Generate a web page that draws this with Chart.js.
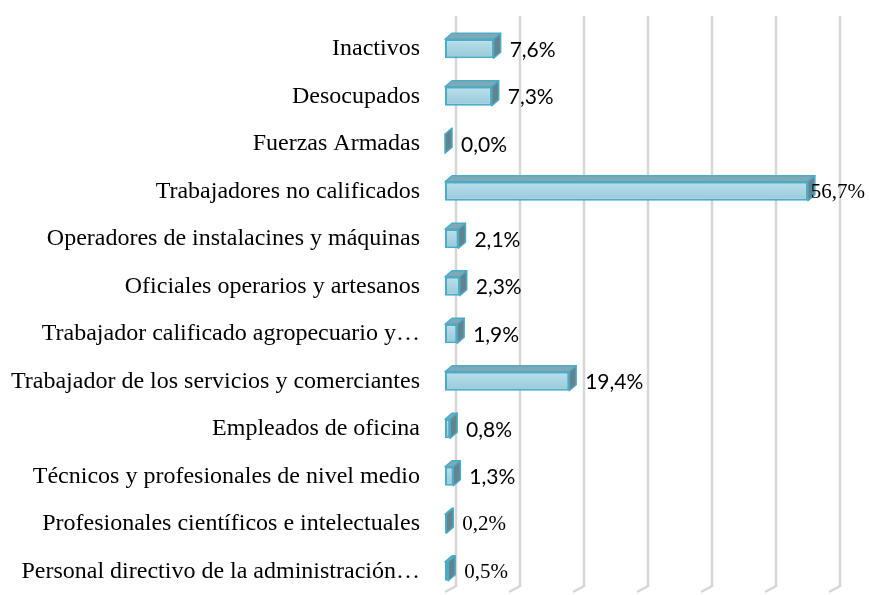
<!DOCTYPE html>
<html>
<head>
<meta charset="utf-8">
<script src="https://cdn.jsdelivr.net/npm/chart.js@4"></script>
<style>
  body { margin: 0; background: #fff; overflow: hidden; }
</style>
</head>
<body>
<canvas id="chartOcupacion" width="869" height="595"></canvas>
<script>
var categorias = [
    'Inactivos',
    'Desocupados',
    'Fuerzas Armadas',
    'Trabajadores no calificados',
    'Operadores de instalacines y máquinas',
    'Oficiales operarios y artesanos',
    'Trabajador calificado agropecuario y…',
    'Trabajador de los servicios y comerciantes',
    'Empleados de oficina',
    'Técnicos y profesionales de nivel medio',
    'Profesionales científicos e intelectuales',
    'Personal directivo de la administración…'
]
var porcentajes = [7.6, 7.3, 0.0, 56.7, 2.1, 2.3, 1.9, 19.4, 0.8, 1.3, 0.2, 0.5]
var marcasEje = [0, 10, 20, 30, 40, 50, 60]

// algunas etiquetas salen en letra serif, el resto en sans
var etiquetaSerif = [false, false, false, true, false, false, false, false, false, false, true, true]

const PROF_X = 7, PROF_Y = 6       // profundidad de la barra
const FONDO_X = 11, FONDO_Y = 9    // profundidad de la pared del fondo

const canvas = document.getElementById('chartOcupacion')

function fmt(v) {
    return v.toFixed(1).replace('.', ',') + '%'
}

// rejilla vertical en la pared del fondo con su quiebre hacia el piso
const rejilla3d = {
    id: 'rejilla3d',
    beforeDatasetsDraw(chart) {
        const ctx = chart.ctx
        const xs = chart.scales.x
        const area = chart.chartArea
        ctx.save()
        ctx.strokeStyle = '#d6d6d6'
        ctx.lineWidth = 2.5
        marcasEje.forEach(v => {
            const x = xs.getPixelForValue(v)
            ctx.beginPath()
            ctx.moveTo(x + FONDO_X, area.top - FONDO_Y)
            ctx.lineTo(x + FONDO_X, area.bottom - FONDO_Y)
            ctx.lineTo(x, area.bottom - 3)
            ctx.stroke()
        })
        ctx.restore()
    }
}

// caras superior y lateral de cada barra, y las etiquetas de valor
const barras3d = {
    id: 'barras3d',
    afterDatasetsDraw(chart) {
        const ctx = chart.ctx
        const meta = chart.getDatasetMeta(0)
        ctx.save()
        ctx.lineWidth = 1.5
        ctx.strokeStyle = '#4bacc6'
        ctx.lineJoin = 'round'
        meta.data.forEach((bar, i) => {
            const izq = bar.base, der = bar.x
            const arriba = bar.y - bar.height / 2, abajo = bar.y + bar.height / 2

            ctx.beginPath()
            ctx.moveTo(izq, arriba)
            ctx.lineTo(izq + PROF_X, arriba - PROF_Y)
            ctx.lineTo(der + PROF_X, arriba - PROF_Y)
            ctx.lineTo(der, arriba)
            ctx.closePath()
            ctx.fillStyle = '#7fa9b6'
            ctx.fill()
            ctx.stroke()

            ctx.beginPath()
            ctx.moveTo(der, arriba)
            ctx.lineTo(der + PROF_X, arriba - PROF_Y)
            ctx.lineTo(der + PROF_X, abajo - PROF_Y)
            ctx.lineTo(der, abajo)
            ctx.closePath()
            ctx.fillStyle = '#62848f'
            ctx.fill()
            ctx.stroke()

            const texto = fmt(porcentajes[i])
            ctx.font = etiquetaSerif[i] ? '21px "Liberation Serif"' : '21px Lato'
            ctx.fillStyle = '#000'
            ctx.textBaseline = 'middle'
            ctx.textAlign = 'left'
            const ancho = ctx.measureText(texto).width
            let x = der + PROF_X + 9
            if (x + ancho > chart.width - 4) x = chart.width - 4 - ancho
            ctx.fillText(texto, x, bar.y + 1)
        })
        ctx.restore()
    }
}

new Chart(canvas, {
    type: 'bar',
    data: {
        labels: categorias,
        datasets: [{
            label: 'Ocupación',
            data: porcentajes,
            backgroundColor: (c) => {
                const ys = c.chart.scales.y
                const y = ys ? ys.getPixelForValue(c.dataIndex) : NaN
                if (!isFinite(y)) return '#a9d5e3'
                const g = c.chart.ctx.createLinearGradient(0, y - 10, 0, y + 10)
                g.addColorStop(0, '#bde0eb')
                g.addColorStop(1, '#95c8d9')
                return g
            },
            borderColor: '#4bacc6',
            borderWidth: 2,
            borderSkipped: false,
            categoryPercentage: 1,
            barPercentage: 0.4
        }]
    },
    options: {
        indexAxis: 'y',
        responsive: false,
        animation: false,
        layout: {
            padding: { top: 25, right: 40, bottom: 0, left: 0 }
        },
        plugins: {
            legend: { display: false },
            tooltip: { enabled: false }
        },
        scales: {
            x: {
                min: 0,
                max: 60,
                display: false,
                grid: { display: false }
            },
            y: {
                border: { display: false },
                grid: { display: false, drawTicks: false },
                ticks: {
                    color: '#000',
                    padding: 25,
                    font: { family: '"Liberation Serif"', size: 24 }
                },
                afterFit(scale) {
                    scale.width = 445
                    scale.paddingTop = 0
                    scale.paddingBottom = 0
                }
            }
        }
    },
    plugins: [rejilla3d, barras3d]
})
</script>
</body>
</html>
